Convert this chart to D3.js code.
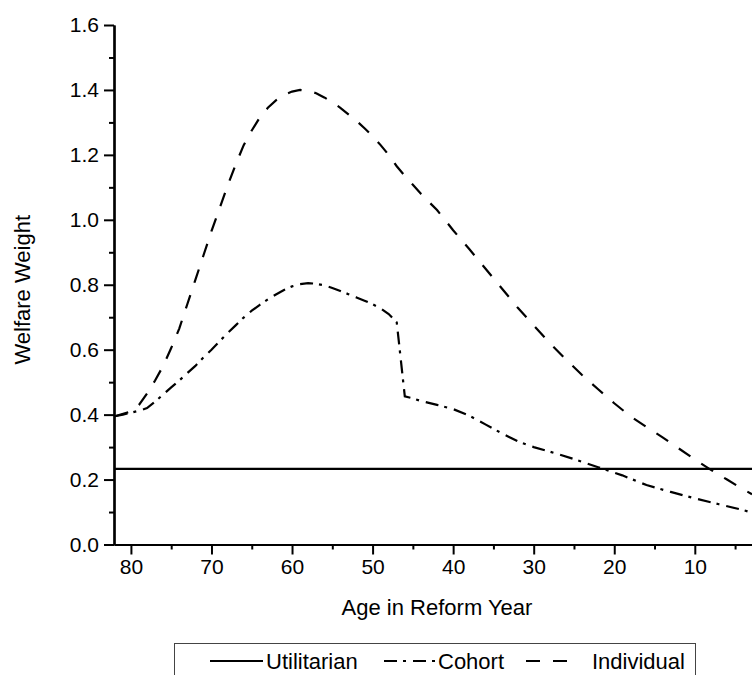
<!DOCTYPE html>
<html>
<head>
<meta charset="utf-8">
<script src="https://cdn.jsdelivr.net/npm/d3@7"></script>
<style>
  body { margin: 0; background: #fff; }
  svg { display: block; font-family: "Liberation Sans", Arial, sans-serif; }
</style>
</head>
<body>
<div id="chart"></div>
<script>
// ages (x values) and welfare weights
var indivAges = [82, 80, 79, 78, 77, 76, 75, 74, 73, 72, 71, 70, 69, 68, 67, 66, 65, 64, 63, 62, 61, 60, 59, 58, 57, 56, 55, 54, 53, 52, 51, 50, 49, 48, 47, 46, 45, 44, 42, 40, 38, 36, 34, 32, 30, 28, 26, 24, 22, 20, 18, 16, 14, 12, 10, 8, 6, 4, 2.9];
var indivVals = [0.395, 0.41, 0.43, 0.465, 0.505, 0.55, 0.605, 0.665, 0.74, 0.815, 0.89, 0.965, 1.035, 1.105, 1.17, 1.23, 1.275, 1.315, 1.345, 1.368, 1.385, 1.395, 1.4, 1.397, 1.39, 1.377, 1.362, 1.345, 1.325, 1.305, 1.282, 1.258, 1.23, 1.2, 1.165, 1.135, 1.108, 1.08, 1.03, 0.968, 0.91, 0.85, 0.79, 0.73, 0.675, 0.62, 0.57, 0.522, 0.478, 0.435, 0.395, 0.362, 0.33, 0.296, 0.262, 0.23, 0.2, 0.17, 0.155];

var cohortAges = [82, 81, 80, 79, 78, 77, 76, 75, 74, 73, 72, 71, 70, 69, 68, 67, 66, 65, 64, 63, 62, 61, 60, 59, 58, 57, 56, 55, 54, 53, 52, 51, 50, 49, 48, 47, 46, 45, 44, 42, 40, 38, 36, 34, 32, 30, 28, 25, 22, 19, 16, 13, 10, 7, 4, 2.9];
var cohortVals = [0.395, 0.4, 0.406, 0.412, 0.42, 0.44, 0.462, 0.484, 0.505, 0.528, 0.55, 0.576, 0.6, 0.626, 0.651, 0.675, 0.699, 0.72, 0.738, 0.755, 0.77, 0.784, 0.795, 0.802, 0.805, 0.803, 0.798, 0.79, 0.781, 0.771, 0.761, 0.751, 0.74, 0.727, 0.71, 0.684, 0.456, 0.45, 0.442, 0.43, 0.417, 0.397, 0.37, 0.343, 0.318, 0.3, 0.286, 0.263, 0.238, 0.213, 0.183, 0.162, 0.142, 0.124, 0.106, 0.098];

var utilValue = 0.233;

var xMajor = [80, 70, 60, 50, 40, 30, 20, 10];
var xMinor = [75, 65, 55, 45, 35, 25, 15, 5];
var yMajor = [0, 0.2, 0.4, 0.6, 0.8, 1.0, 1.2, 1.4, 1.6];
var yMinor = [0.1, 0.3, 0.5, 0.7, 0.9, 1.1, 1.3, 1.5];

var seriesNames = ["Utilitarian", "Cohort", "Individual"];
var seriesDash = ["none", "13,6,3,7", "14,13"];

var W = 752, H = 675;
var margin = { left: 114, right: 0, top: 25, bottom: 130.5 };
var width = W - margin.left - margin.right,
    height = H - margin.top - margin.bottom;

var svg = d3.select("#chart").append("svg")
    .attr("width", W)
    .attr("height", H);

var g = svg.append("g")
    .attr("transform", "translate(" + margin.left + "," + margin.top + ")");

var x = d3.scaleLinear().domain([82.1, 2.9]).range([0, width]);
var y = d3.scaleLinear().domain([0, 1.6]).range([height, 0]);

// lines
var line = d3.line()
    .x(function(d) { return x(d[0]); })
    .y(function(d) { return y(d[1]); });

var indivData = indivAges.map(function(a, i) { return [a, indivVals[i]]; });
var cohortData = cohortAges.map(function(a, i) { return [a, cohortVals[i]]; });
var utilData = [[82.1, utilValue], [2.9, utilValue]];

var plot = g.append("g")
    .attr("fill", "none")
    .attr("stroke", "#000")
    .attr("stroke-width", 2.2);

plot.append("path").datum(utilData).attr("d", line);
plot.append("path").datum(cohortData).attr("d", line)
    .attr("stroke-dasharray", seriesDash[1]);
plot.append("path").datum(indivData).attr("d", line)
    .attr("stroke-dasharray", seriesDash[2]);

// axes
g.append("g")
    .attr("transform", "translate(0," + height + ")")
    .call(d3.axisBottom(x).tickValues(xMajor).tickSize(10).tickSizeOuter(0).tickPadding(5));
g.append("g")
    .attr("transform", "translate(0," + height + ")")
    .call(d3.axisBottom(x).tickValues(xMinor).tickSize(5).tickSizeOuter(0).tickFormat(""));
g.append("g")
    .call(d3.axisLeft(y).tickValues(yMajor).tickSize(10).tickSizeOuter(0).tickPadding(5)
      .tickFormat(d3.format(".1f")));
g.append("g")
    .call(d3.axisLeft(y).tickValues(yMinor).tickSize(5).tickSizeOuter(0).tickFormat(""));

g.selectAll(".domain").attr("stroke-width", 2.2);
g.selectAll(".tick line").attr("stroke-width", 2);
g.selectAll(".tick text")
    .attr("font-size", 21)
    .attr("font-family", "Liberation Sans, Arial, sans-serif")
    .attr("fill", "#000");

// axis titles
svg.append("text")
    .attr("x", 437)
    .attr("y", 615)
    .attr("text-anchor", "middle")
    .attr("font-size", 22)
    .text("Age in Reform Year");

svg.append("text")
    .attr("transform", "translate(30," + (margin.top + height / 2 + 5) + ") rotate(-90)")
    .attr("text-anchor", "middle")
    .attr("font-size", 22)
    .text("Welfare Weight");

// legend
var legend = svg.append("g");
legend.append("rect")
    .attr("x", 174.5).attr("y", 643.5)
    .attr("width", 521).attr("height", 60)
    .attr("fill", "none")
    .attr("stroke", "#444")
    .attr("stroke-width", 1);

var legX = [210, 384, 526];
var legLen = [53, 52, 42];
var legTextX = [266, 438, 592];
var legY = 661;

seriesNames.forEach(function(name, i) {
  legend.append("line")
      .attr("x1", legX[i]).attr("x2", legX[i] + legLen[i])
      .attr("y1", legY).attr("y2", legY)
      .attr("stroke", "#000")
      .attr("stroke-width", 2.2)
      .attr("stroke-dasharray", seriesDash[i]);
  legend.append("text")
      .attr("x", legTextX[i])
      .attr("y", legY + 8)
      .attr("font-size", 22)
      .text(name);
});
</script>
</body>
</html>
